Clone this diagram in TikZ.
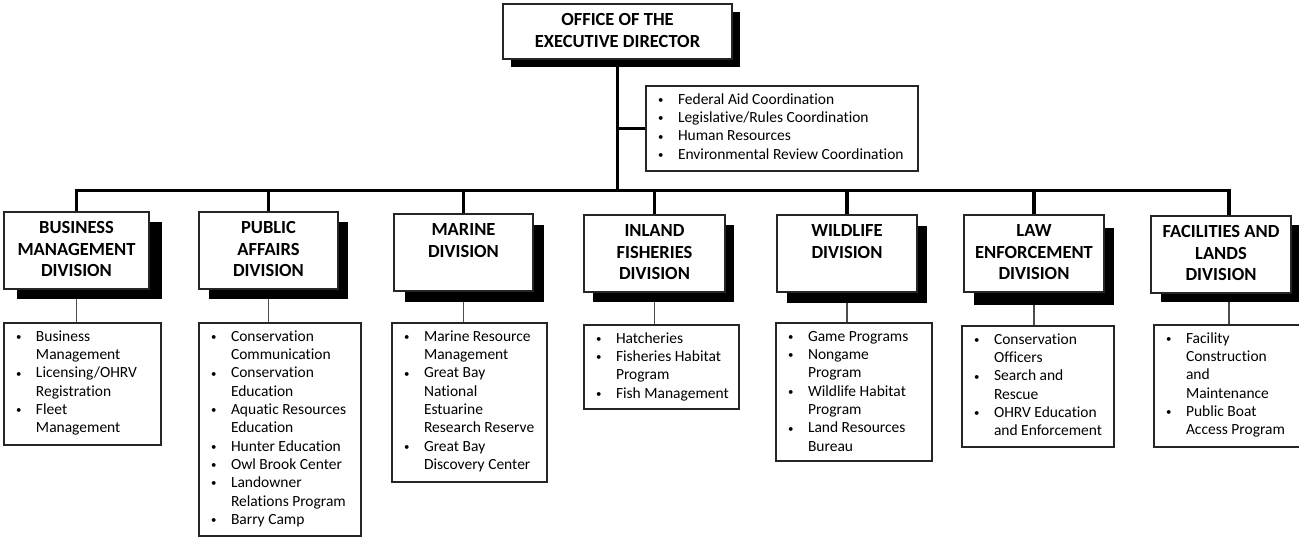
\documentclass[tikz,border=0pt]{standalone}
\usepackage{fontspec}
\setmainfont[Ligatures=NoCommon]{Carlito}
\usetikzlibrary{shadows,backgrounds}
\newcommand\titlefont{\fontsize{18.5}{21.4}\selectfont\bfseries}
\newcommand\subfont{\fontsize{15.5}{18.3}\selectfont}
\newcommand\dtitle[3]{\parbox[t][#2pt][t]{#1pt}{\titlefont\centering\vspace*{7pt}\strut #3\par}}
\newcommand\listbox[3]{\parbox[t][#2pt][t]{#1pt}{\subfont\raggedright\vspace*{5.5pt}#3\par}}
\newcommand\mybul{\raisebox{0.8pt}{\scalebox{0.7}{\textbullet}}}
\newcommand\itm[1]{\par\hangindent=32pt\hangafter=1\noindent\strut\makebox[32pt][l]{\hspace{12pt}\mybul}#1}
\tikzset{
  box/.style={draw=black!85, line width=1.2pt, fill=white, inner sep=0pt, outer sep=0pt, anchor=north west},
  dsh/.style 2 args={drop shadow={shadow xshift=#1pt, shadow yshift=-#2pt, fill=black, opacity=1}},
  bus/.style={line width=3.5pt, black},
  link/.style={line width=1.5pt, black!70},
}
\begin{document}
\begin{tikzpicture}[x=1pt, y=-1pt]
\useasboundingbox (0,0) rectangle (1299,537);
% top
\node[box,dsh={8}{8}] (ed) at (503,4) {\dtitle{229}{55}{OFFICE OF THE\\EXECUTIVE DIRECTOR}};
\node[box] (side) at (646,86) {\listbox{272}{85}{\itm{Federal Aid Coordination}\itm{Legislative/Rules Coordination}\itm{Human Resources}\itm{Environmental Review Coordination}}};
% divisions
\node[box,dsh={13}{10}] (bm) at (4,212) {\dtitle{145}{77}{BUSINESS\\MANAGEMENT\\DIVISION}};
\node[box,dsh={10}{10}] (pa) at (199,212) {\dtitle{139}{77}{PUBLIC\\AFFAIRS\\DIVISION}};
\node[box,dsh={11}{11}] (ma) at (394,214) {\dtitle{139}{77}{MARINE\\DIVISION}};
\node[box,dsh={9}{10}] (inl) at (584,215) {\dtitle{141}{77}{INLAND\\FISHERIES\\DIVISION}};
\node[box,dsh={10}{11}] (wd) at (777,215) {\dtitle{140}{77}{WILDLIFE\\DIVISION}};
\node[box,dsh={10}{13}] (le) at (964,215) {\dtitle{140}{77}{LAW\\ENFORCEMENT\\DIVISION}};
\node[box,dsh={10}{9}] (fl) at (1151,216) {\dtitle{140}{77}{FACILITIES AND\\LANDS\\DIVISION}};
% sub boxes
\node[box] (bms) at (4,323) {\listbox{157}{122}{\itm{Business\newline Management}\itm{Licensing/OHRV\newline Registration}\itm{Fleet\newline Management}}};
\node[box] (pas) at (199,323) {\listbox{162}{213}{\itm{Conservation\newline Communication}\itm{Conservation\newline Education}\itm{Aquatic Resources\newline Education}\itm{Hunter Education}\itm{Owl Brook Center}\itm{Landowner\newline Relations Program}\itm{Barry Camp}}};
\node[box] (mas) at (392,323) {\listbox{155}{159}{\itm{Marine Resource\newline Management}\itm{Great Bay\newline National\newline Estuarine\newline Research Reserve}\itm{Great Bay\newline Discovery Center}}};
\node[box] (inls) at (584,325) {\listbox{155}{84}{\itm{Hatcheries}\itm{Fisheries Habitat\newline Program}\itm{Fish Management}}};
\node[box] (wds) at (776,323) {\listbox{156}{138}{\itm{Game Programs}\itm{Nongame\newline Program}\itm{Wildlife Habitat\newline Program}\itm{Land Resources\newline Bureau}}};
\node[box] (les) at (962,326) {\listbox{152}{121}{\itm{Conservation\newline Officers}\itm{Search and\newline Rescue}\itm{OHRV Education\newline and Enforcement}}};
\node[box] (fls) at (1154,325) {\listbox{150}{122}{\itm{Facility\newline Construction\newline and\newline Maintenance}\itm{Public Boat\newline Access Program}}};
% connectors
\begin{pgfonlayer}{background}
\fill[white] (0,0) rectangle (1299,537);
\coordinate (j) at (617.5,190.5);
\draw[bus] (ed.south) -- (ed.south |- j);
\draw[bus] (side.west) -- (side.west -| ed.south);
\foreach \n in {bm,pa,ma,inl,wd,le} \draw[bus] (\n.north) |- (j);
\draw[bus] (fls.north |- fl.north) |- (j);
\draw[link] (bm.south) -- (bm.south |- bms.north);
\draw[link] (pa.south) -- (pa.south |- pas.north);
\draw[link] (ma.south) -- (ma.south |- mas.north);
\draw[link] (inl.south) -- (inl.south |- inls.north);
\draw[link] (wd.south) -- (wd.south |- wds.north);
\draw[link] (le.south) -- (le.south |- les.north);
\draw[link] (fls.north) -- (fls.north |- fl.south);
\end{pgfonlayer}
\end{tikzpicture}
\end{document}
